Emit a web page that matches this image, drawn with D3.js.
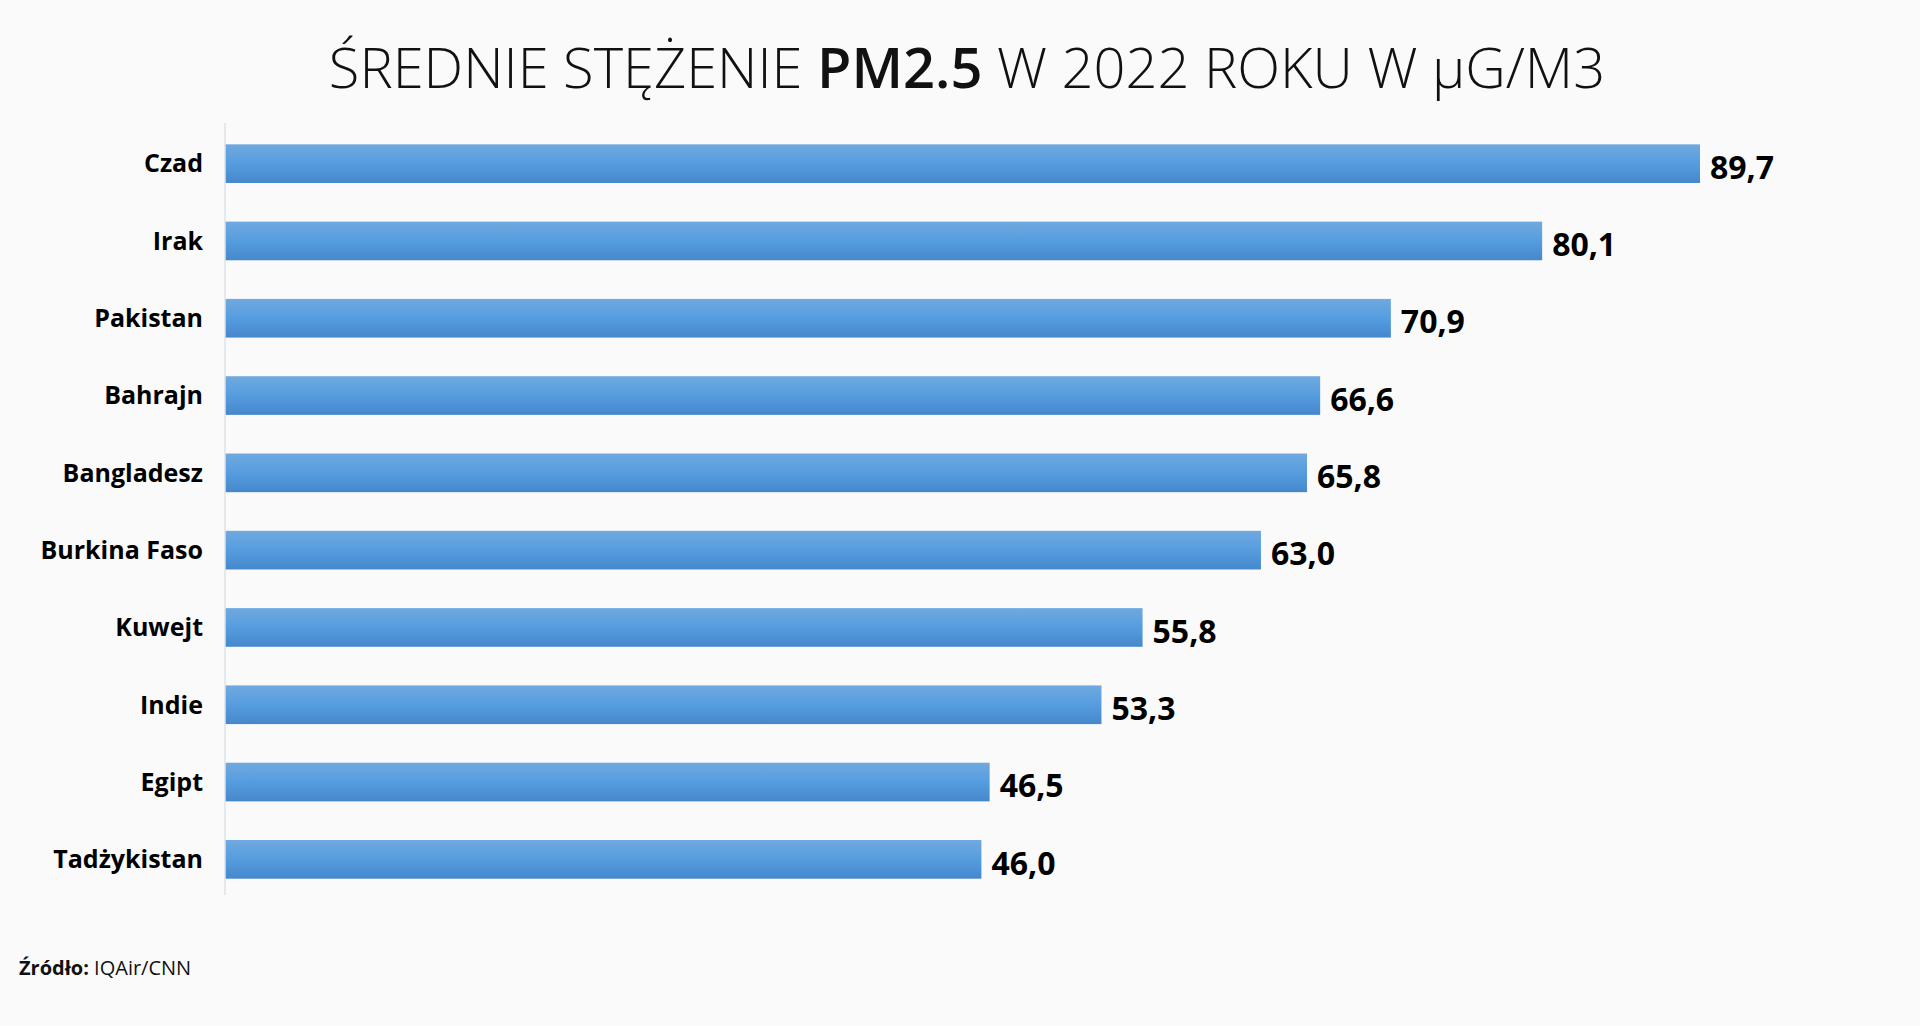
<!DOCTYPE html>
<html>
<head>
<meta charset="utf-8">
<style>
  body{margin:0;background:#fafafa;}
  text{font-family:"Open Sans",sans-serif;}
</style>
</head>
<body>
<script src="https://cdn.jsdelivr.net/npm/d3@7"></script>
<script>
  var countries = ['Czad','Irak','Pakistan','Bahrajn','Bangladesz','Burkina Faso','Kuwejt','Indie','Egipt','Tadżykistan'];
  var values = [89.7, 80.1, 70.9, 66.6, 65.8, 63.0, 55.8, 53.3, 46.5, 46.0];

  var W = 1920, H = 1026;
  var plotLeft = 225, plotTop = 125, plotBottom = 898;
  var svg = d3.select('body').append('svg').attr('width', W).attr('height', H);

  var defs = svg.append('defs');
  var g = defs.append('linearGradient').attr('id','bar').attr('x1',0).attr('y1',0).attr('x2',0).attr('y2',1);
  g.append('stop').attr('offset','0%').attr('stop-color','#70a9df');
  g.append('stop').attr('offset','50%').attr('stop-color','#559ddf');
  g.append('stop').attr('offset','100%').attr('stop-color','#4687cc');

  var x = d3.scaleLinear().domain([0, 89.7]).range([plotLeft, 1700]);
  var y = d3.scaleBand().domain(countries).range([plotTop, plotBottom]).paddingInner(0.5).paddingOuter(0.25);

  // title
  var title = svg.append('text').attr('x', 967).attr('y', 88).attr('text-anchor','middle')
    .attr('font-size', 56).attr('fill','#111');
  title.append('tspan').attr('font-weight',300).text('ŚREDNIE STĘŻENIE ');
  title.append('tspan').attr('font-weight',600).text('PM2.5');
  title.append('tspan').attr('font-weight',300).text(' W 2022 ROKU W µG/M3');

  svg.selectAll('rect.bar').data(values).enter().append('rect')
    .attr('class','bar')
    .attr('x', plotLeft)
    .attr('y', function(d,i){ return y(countries[i]); })
    .attr('width', function(d){ return x(d) - plotLeft; })
    .attr('height', y.bandwidth())
    .attr('fill','url(#bar)');

  svg.append('line').attr('x1', plotLeft).attr('x2', plotLeft).attr('y1', 123).attr('y2', 895)
    .attr('stroke','#dde3ea').attr('stroke-width',1.5);

  svg.selectAll('text.cat').data(countries).enter().append('text')
    .attr('class','cat')
    .attr('x', 203)
    .attr('y', function(d){ return y(d) + y.bandwidth()/2; })
    .attr('dy','0.35em').attr('text-anchor','end')
    .attr('font-size', 25).attr('font-weight',700).attr('fill','#000')
    .text(function(d){ return d; });

  svg.selectAll('text.val').data(values).enter().append('text')
    .attr('class','val')
    .attr('x', function(d){ return x(d) + 10; })
    .attr('y', function(d,i){ return y(countries[i]) + y.bandwidth()/2 + 4; })
    .attr('dy','0.35em')
    .attr('font-size', 32).attr('font-weight',700).attr('fill','#000')
    .text(function(d){ return d.toFixed(1).replace('.', ','); });

  var src = svg.append('text').attr('x', 19).attr('y', 975).attr('font-size', 20).attr('fill','#111');
  src.append('tspan').attr('font-weight',700).text('Źródło: ');
  src.append('tspan').attr('font-weight',400).text(' IQAir/CNN');
</script>
</body>
</html>
